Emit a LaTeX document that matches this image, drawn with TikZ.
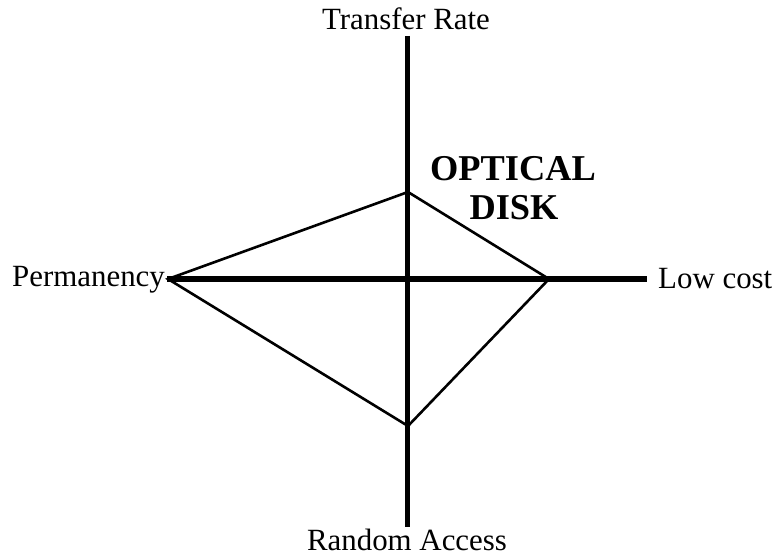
\documentclass[tikz,border=0pt]{standalone}
\usepackage{fontspec}
\setmainfont{Liberation Serif}
\begin{document}
\begin{tikzpicture}[x=1bp,y=-1bp,
  axis/.style={line width=5bp},
  poly/.style={line width=2.6bp, line join=miter},
  lbl/.style={inner sep=0pt, anchor=base, font=\fontsize{31}{36}\selectfont},
  title/.style={inner sep=0pt, anchor=base, font=\fontsize{36.5}{40}\selectfont\bfseries}]
\useasboundingbox (0,0) rectangle (778,556);
% axis ends
\coordinate (vt) at (407.5,36);
\coordinate (vb) at (407.5,527);
\coordinate (hl) at (167,279);
\coordinate (hr) at (647,279);
% diamond vertices
\coordinate (dt) at (408,192);
\coordinate (dr) at (549,279);
\coordinate (db) at (408,426);
\coordinate (dl) at (168,279);
\draw[axis] (vt) -- (vb);
\draw[axis] (hl) -- (hr);
\draw[poly] (dt) -- (dr) -- (db) -- (dl) -- cycle;
% labels
\node[lbl] (tr) at (406,30) {Transfer Rate};
\node[lbl] (ra) at (407,550) {Random Access};
\node[lbl, anchor=base west] (pm) at (12,287) {Permanency};
\node[lbl, anchor=base west] (lc) at (658,289) {Low cost};
\node[title] (op) at (513,181) {OPTICAL};
\node[title] (dk) at (514,220) {DISK};
\end{tikzpicture}
\end{document}
